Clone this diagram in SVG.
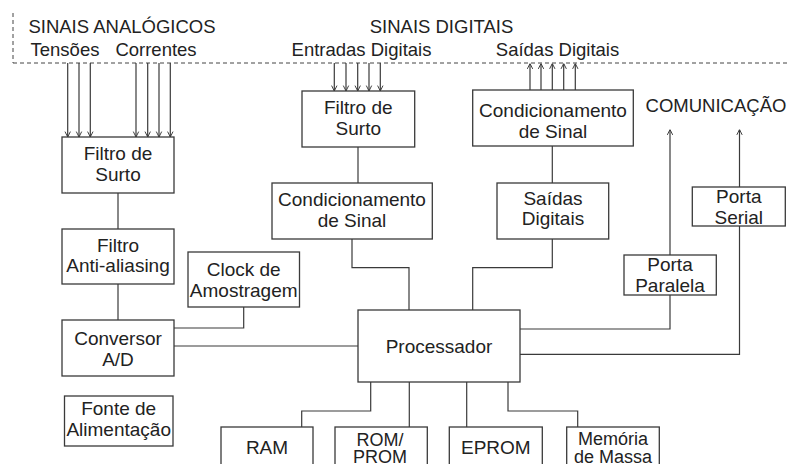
<svg xmlns="http://www.w3.org/2000/svg" width="790" height="464" viewBox="0 0 790 464">
<style>
.box{fill:#fff;stroke:#3a3a3a;stroke-width:1.3}
.ln{fill:none;stroke:#3a3a3a;stroke-width:1.2}
.dash{fill:none;stroke:#444;stroke-width:1;stroke-dasharray:4 3}
text{font-family:"Liberation Sans",Arial,sans-serif;font-size:19px;fill:#222;text-anchor:middle}
.hd{font-size:18.5px}
.sm{font-size:18px}
</style>
<defs>
<marker id="ah" viewBox="0 0 10 10" refX="10" refY="5" markerWidth="6" markerHeight="8" markerUnits="userSpaceOnUse" orient="auto">
<path d="M1,0.5 L10,5 L1,9.5" fill="none" stroke="#3a3a3a" stroke-width="1.6"/>
</marker>
</defs>
<rect width="790" height="464" fill="#fff"/>
<g id="headers">
<path class="dash" d="M13,13 V63 M13,63 H790"/>
<text class="hd" x="122" y="32.5">SINAIS ANALÓGICOS</text>
<text class="hd" x="65" y="56">Tensões</text>
<text class="hd" x="156" y="56">Correntes</text>
<text class="hd" x="441.5" y="32.5">SINAIS DIGITAIS</text>
<text class="hd" x="361.5" y="56">Entradas Digitais</text>
<text class="hd" x="557.5" y="56">Saídas Digitais</text>
<text class="hd" x="716" y="111.7">COMUNICAÇÃO</text>
</g>
<g id="connectors">
<path class="ln" marker-end="url(#ah)" d="M67.7,63 V137"/>
<path class="ln" marker-end="url(#ah)" d="M79,63 V137"/>
<path class="ln" marker-end="url(#ah)" d="M90.3,63 V137"/>
<path class="ln" marker-end="url(#ah)" d="M136,63 V137"/>
<path class="ln" marker-end="url(#ah)" d="M147.7,63 V137"/>
<path class="ln" marker-end="url(#ah)" d="M159,63 V137"/>
<path class="ln" marker-end="url(#ah)" d="M170.3,63 V137"/>
<path class="ln" marker-end="url(#ah)" d="M334.3,63 V91"/>
<path class="ln" marker-end="url(#ah)" d="M346,63 V91"/>
<path class="ln" marker-end="url(#ah)" d="M357.7,63 V91"/>
<path class="ln" marker-end="url(#ah)" d="M369,63 V91"/>
<path class="ln" marker-end="url(#ah)" d="M380.3,63 V91"/>
<path class="ln" marker-end="url(#ah)" d="M530,90 V63.5"/>
<path class="ln" marker-end="url(#ah)" d="M541,90 V63.5"/>
<path class="ln" marker-end="url(#ah)" d="M552.3,90 V63.5"/>
<path class="ln" marker-end="url(#ah)" d="M563.7,90 V63.5"/>
<path class="ln" marker-end="url(#ah)" d="M575.3,90 V63.5"/>
<path class="ln" marker-end="url(#ah)" d="M670,255 V129.5"/>
<path class="ln" marker-end="url(#ah)" d="M739.5,187 V129.5"/>
<path class="ln" d="M118,193 V229 M118,284 V320"/>
<path class="ln" d="M243.7,307 V328 H174"/>
<path class="ln" d="M174,346 H358"/>
<path class="ln" d="M358,147 V183"/>
<path class="ln" d="M352,239 V267.7 H409 V310"/>
<path class="ln" d="M552.3,146 V183"/>
<path class="ln" d="M552.3,239 V267.7 H472.7 V310"/>
<path class="ln" d="M520,329 H670 V295"/>
<path class="ln" d="M520,354.3 H739.5 V226"/>
<path class="ln" d="M370.7,382 V411 H301.7 V427"/>
<path class="ln" d="M409.3,382 V427"/>
<path class="ln" d="M466.7,382 V427"/>
<path class="ln" d="M508,382 V411 H577.7 V427"/>
</g>
<g id="filtro-surto-a">
<rect class="box" x="62" y="137" width="112" height="56"/>
<text x="118" y="159.5">Filtro de</text>
<text x="118" y="181">Surto</text>
</g>
<g id="filtro-anti">
<rect class="box" x="62" y="229" width="112" height="55"/>
<text x="118" y="251.5">Filtro</text>
<text x="118" y="272">Anti-aliasing</text>
</g>
<g id="clock">
<rect class="box" x="188" y="252" width="111.5" height="55"/>
<text x="243.7" y="276">Clock de</text>
<text x="243.7" y="297">Amostragem</text>
</g>
<g id="conversor">
<rect class="box" x="62" y="320" width="112" height="56"/>
<text x="118" y="345">Conversor</text>
<text x="118" y="366">A/D</text>
</g>
<g id="fonte">
<rect class="box" x="64.5" y="396" width="108.5" height="50"/>
<text x="118.7" y="414.5">Fonte de</text>
<text x="118.7" y="436">Alimentação</text>
</g>
<g id="processador">
<rect class="box" x="358" y="310" width="162" height="72"/>
<text x="439" y="353">Processador</text>
</g>
<g id="ram">
<rect class="box" x="221" y="427" width="92" height="50"/>
<text x="267" y="454">RAM</text>
</g>
<g id="rom">
<rect class="box" x="335" y="427" width="92.3" height="50"/>
<text class="sm" x="380" y="445.5">ROM/</text>
<text class="sm" x="380" y="463">PROM</text>
</g>
<g id="eprom">
<rect class="box" x="449.3" y="427" width="93" height="50"/>
<text x="495.8" y="454">EPROM</text>
</g>
<g id="memoria">
<rect class="box" x="566.7" y="427" width="92.6" height="50"/>
<text class="sm" x="613" y="444.5">Memória</text>
<text class="sm" x="613" y="463">de Massa</text>
</g>
<g id="cond-a">
<rect class="box" x="272" y="183" width="160.3" height="56"/>
<text x="352" y="206">Condicionamento</text>
<text x="352" y="227">de Sinal</text>
</g>
<g id="saidas">
<rect class="box" x="497" y="183" width="111.7" height="56"/>
<text x="553" y="204.5">Saídas</text>
<text x="553" y="225">Digitais</text>
</g>
<g id="filtro-surto-b">
<rect class="box" x="302" y="91" width="112.7" height="56"/>
<text x="358.3" y="113.5">Filtro de</text>
<text x="358.3" y="135">Surto</text>
</g>
<g id="cond-b">
<rect class="box" x="472.7" y="90" width="160.6" height="56"/>
<text x="553" y="116.7">Condicionamento</text>
<text x="553" y="138.3">de Sinal</text>
</g>
<g id="paralela">
<rect class="box" x="624" y="255" width="92.3" height="40"/>
<text x="670" y="271">Porta</text>
<text x="670" y="292">Paralela</text>
</g>
<g id="serial">
<rect class="box" x="692.3" y="187" width="93" height="39"/>
<text x="738.8" y="203">Porta</text>
<text x="738.8" y="223.5">Serial</text>
</g>
</svg>
